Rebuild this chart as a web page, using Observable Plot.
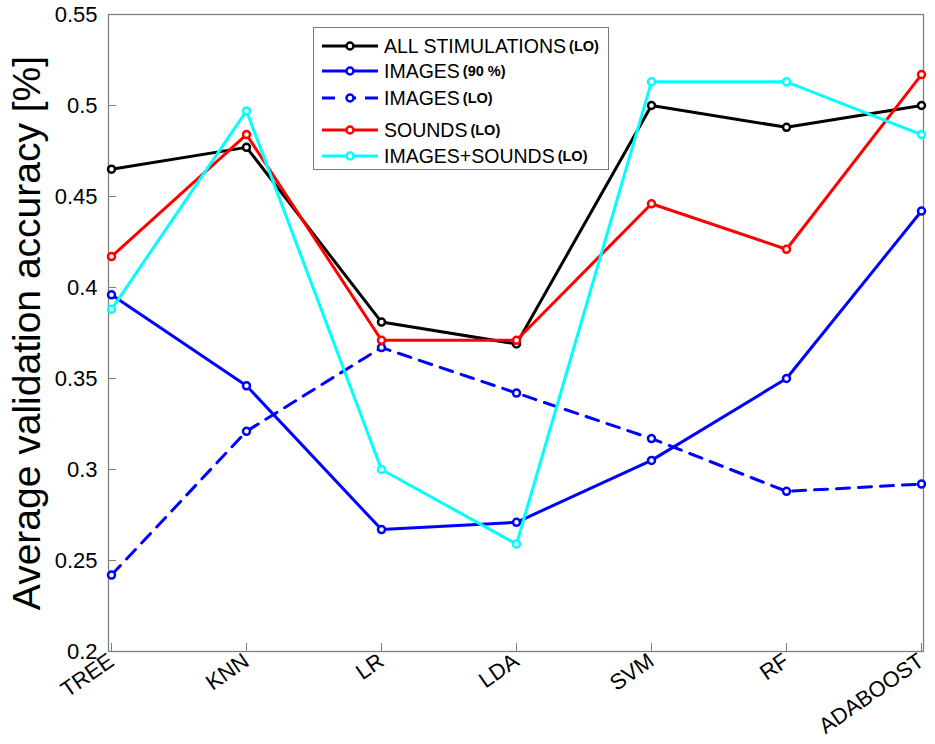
<!DOCTYPE html>
<html>
<head>
<meta charset="utf-8">
<script src="https://cdn.jsdelivr.net/npm/d3@7"></script>
<script src="https://cdn.jsdelivr.net/npm/@observablehq/plot@0.6"></script>
<style>
  html, body { margin: 0; padding: 0; background: #fff; }
  #wrap { position: relative; width: 935px; height: 744px; font-family: "Liberation Sans", Arial, Helvetica, sans-serif; }
  #wrap svg { font-family: "Liberation Sans", Arial, Helvetica, sans-serif; }
  g[aria-label="y-axis label"] { font-size: 39px; }
  #legend { position: absolute; left: 313px; top: 27px; width: 296px; height: 143px; border: 1.3px solid #7a7a7a; background: #fff; box-sizing: border-box; }
  .row { position: absolute; left: 0; height: 24px; display: flex; align-items: center; }
  .row svg { margin-left: 8px; margin-right: 6px; }
  .lbl { font-size: 19.5px; color: #000; white-space: nowrap; }
  .tag { font-size: 14.5px; font-weight: bold; margin-left: 3px; vertical-align: 2px; }
</style>
</head>
<body>
<div id="wrap"></div>
<script>
const categories = ["TREE", "KNN", "LR", "LDA", "SVM", "RF", "ADABOOST"];
const allStimulations = [0.465, 0.477, 0.381, 0.369, 0.500, 0.488, 0.500];
const images90 = [0.396, 0.346, 0.267, 0.271, 0.305, 0.350, 0.442];
const imagesLO = [0.242, 0.321, 0.367, 0.342, 0.317, 0.288, 0.292];
const soundsLO = [0.417, 0.484, 0.371, 0.371, 0.446, 0.421, 0.517];
const imagesSoundsLO = [0.388, 0.497, 0.300, 0.259, 0.513, 0.513, 0.484];
const yTicks = [0.2, 0.25, 0.3, 0.35, 0.4, 0.45, 0.5, 0.55];
const seriesNames = ["ALL STIMULATIONS", "IMAGES", "IMAGES", "SOUNDS", "IMAGES+SOUNDS"];
const seriesTags = ["(LO)", "(90 %)", "(LO)", "(LO)", "(LO)"];
const seriesValues = [allStimulations, images90, imagesLO, soundsLO, imagesSoundsLO];
const seriesColors = ["#000000", "#0000ff", "#0000ff", "#ff0000", "#00ffff"];
const seriesDashed = [false, false, true, false, false];

const W = 935, H = 744, mL = 108, mR = 12, mT = 14, mB = 93;
const frameW = W - mL - mR, frameH = H - mT - mB;

const series = seriesNames.map((n, k) => ({
  name: n, tag: seriesTags[k], color: seriesColors[k], dashed: seriesDashed[k],
  rows: categories.map((c, i) => ({cat: c, value: seriesValues[k][i]}))
}));

const marks = [
  Plot.tickY(yTicks, {y: d => d, stroke: "#808080", strokeWidth: 1, insetRight: frameW - 8}),
  Plot.tickX(categories, {x: d => d, stroke: "#808080", strokeWidth: 1, insetTop: frameH - 8}),
  Plot.frame({stroke: "#808080", strokeWidth: 1.3}),
  Plot.axisY({ticks: yTicks, tickSize: 0, tickPadding: 11, fontSize: 22, tickFormat: d => String(+d.toFixed(2)),
    label: "Average validation accuracy [%]", labelAnchor: "center", labelArrow: "none", labelOffset: 96}),
  Plot.axisX({tickSize: 0, tickPadding: 7, fontSize: 22, tickRotate: -35, label: null})
];
for (const s of series) {
  marks.push(Plot.line(s.rows, {x: "cat", y: "value", stroke: s.color, strokeWidth: 3,
    strokeDasharray: s.dashed ? "13,9" : null}));
  marks.push(Plot.dot(s.rows, {x: "cat", y: "value", r: 3.5, stroke: s.color, strokeWidth: 2.5, fill: "#fff"}));
}

const chart = Plot.plot({
  width: W, height: H,
  marginLeft: mL, marginRight: mR, marginTop: mT, marginBottom: mB,
  x: {type: "point", domain: categories, padding: 0},
  y: {domain: [0.2, 0.55]},
  style: {color: "#000", background: "#fff"},
  marks
});
const wrap = document.getElementById("wrap");
wrap.appendChild(chart);

// legend
const legend = document.createElement("div");
legend.id = "legend";
const rowTops = [6, 31, 58, 90, 116];
series.forEach((s, k) => {
  const row = document.createElement("div");
  row.className = "row";
  row.style.top = rowTops[k] + "px";
  const ns = "http://www.w3.org/2000/svg";
  const svg = document.createElementNS(ns, "svg");
  svg.setAttribute("width", 56); svg.setAttribute("height", 24);
  if (s.dashed) {
    for (const [a, b] of [[0, 13], [24, 34], [43, 56]]) {
      const l = document.createElementNS(ns, "line");
      l.setAttribute("x1", a); l.setAttribute("x2", b); l.setAttribute("y1", 12); l.setAttribute("y2", 12);
      l.setAttribute("stroke", s.color); l.setAttribute("stroke-width", 3); svg.appendChild(l);
    }
  } else {
    const l = document.createElementNS(ns, "line");
    l.setAttribute("x1", 0); l.setAttribute("x2", 56); l.setAttribute("y1", 12); l.setAttribute("y2", 12);
    l.setAttribute("stroke", s.color); l.setAttribute("stroke-width", 3); svg.appendChild(l);
  }
  const c = document.createElementNS(ns, "circle");
  c.setAttribute("cx", 28); c.setAttribute("cy", 12); c.setAttribute("r", 3.5);
  c.setAttribute("fill", "#fff"); c.setAttribute("stroke", s.color); c.setAttribute("stroke-width", 2.5);
  svg.appendChild(c);
  row.appendChild(svg);
  const t = document.createElement("span");
  t.className = "lbl";
  t.textContent = s.name;
  const tag = document.createElement("span");
  tag.className = "tag";
  tag.textContent = s.tag;
  t.appendChild(tag);
  row.appendChild(t);
  legend.appendChild(row);
});
wrap.appendChild(legend);
</script>
</body>
</html>
